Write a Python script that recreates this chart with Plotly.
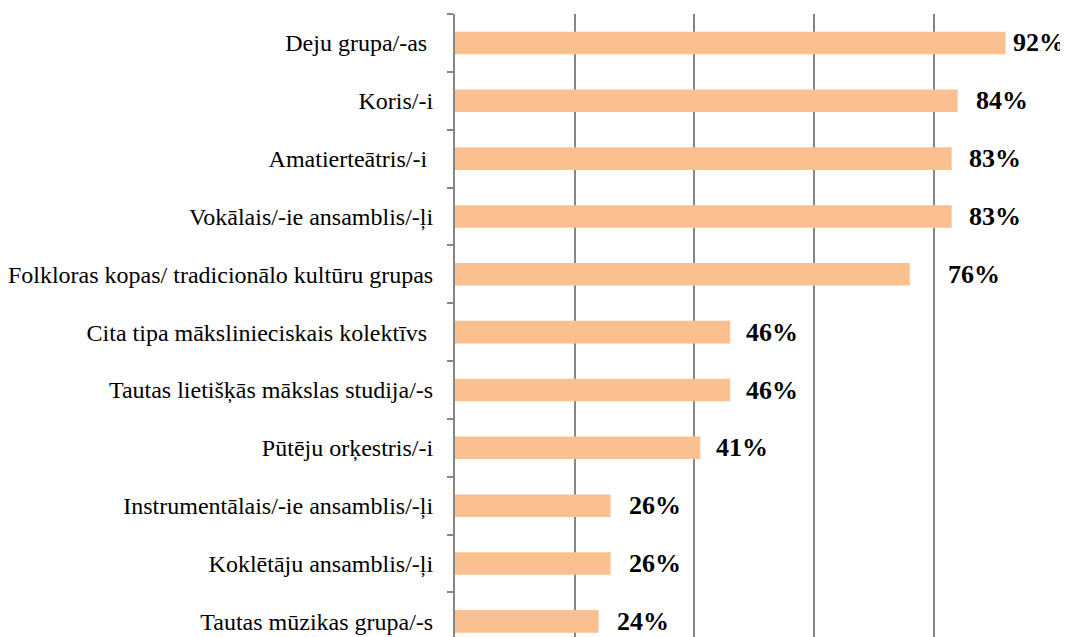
import plotly.graph_objects as go

categories = [
    "Deju grupa/-as\u00a0",
    "Koris/-i",
    "Amatierteātris/-i\u00a0",
    "Vokālais/-ie ansamblis/-ļi",
    "Folkloras kopas/ tradicionālo kultūru grupas",
    "Cita tipa mākslinieciskais kolektīvs\u00a0",
    "Tautas lietišķās mākslas studija/-s",
    "Pūtēju orķestris/-i",
    "Instrumentālais/-ie ansamblis/-ļi",
    "Koklētāju ansamblis/-ļi",
    "Tautas mūzikas grupa/-s",
]
values = [0.92, 0.84, 0.83, 0.83, 0.76, 0.46, 0.46, 0.41, 0.26, 0.26, 0.24]
value_labels = ["92%", "84%", "83%", "83%", "76%", "46%", "46%", "41%", "26%", "26%", "24%"]
label_shift = [5, 16, 15, 15, 36, 14, 14, 14, 16, 16, 16]

BAR = "#FAC090"
GRID = "#868686"
SERIF = "Liberation Serif, Times New Roman, serif"

fig = go.Figure()
fig.add_trace(go.Bar(
    x=values, y=categories, orientation="h",
    marker=dict(color=BAR, line=dict(width=0)),
    width=0.39, hoverinfo="skip",
))

for cat, v, lab, sh in zip(categories, values, value_labels, label_shift):
    fig.add_annotation(
        x=v, y=cat, text=f"<b>{lab}</b>", showarrow=False,
        xanchor="left", yanchor="middle", xshift=sh,
        font=dict(family=SERIF, size=26, color="black"),
    )

# page body has an 8px default margin, so the figure is sized to fit the window
fig.update_layout(
    width=1060, height=629,
    margin=dict(l=447, r=14, t=6, b=0, autoexpand=False),
    paper_bgcolor="white", plot_bgcolor="white",
    showlegend=False,
    font=dict(family=SERIF, size=24, color="black"),
    xaxis=dict(
        range=[0, 1.001], showticklabels=False, ticks="",
        showgrid=True, gridcolor=GRID, gridwidth=1.5,
        dtick=0.2, tick0=0, zeroline=False, showline=False,
    ),
    yaxis=dict(
        type="category", range=[10.27, -0.5], automargin=False,
        showline=True, linecolor=GRID, linewidth=2,
        ticks="outside", ticklen=6, tickcolor=GRID, tickwidth=2,
        tickson="boundaries", showgrid=False,
        ticklabelstandoff=15,
        tickfont=dict(family=SERIF, size=24, color="black"),
    ),
)

fig.write_html("out.html")
